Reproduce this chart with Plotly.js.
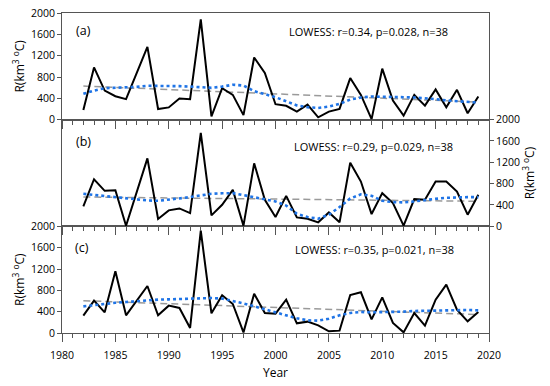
<!DOCTYPE html>
<html>
<head>
<meta charset="utf-8">
<script src="https://cdn.plot.ly/plotly-3.0.1.min.js"></script>
<style>html,body{margin:0;padding:0;background:#fff;}#chart{width:550px;height:386px;}</style>
</head>
<body>
<div id="chart"></div>
<script>
const years = [1982,1983,1984,1985,1986,1987,1988,1989,1990,1991,1992,1993,1994,1995,1996,1997,1998,1999,2000,2001,2002,2003,2004,2005,2006,2007,2008,2009,2010,2011,2012,2013,2014,2015,2016,2017,2018,2019];

const rA = [180,980,545,440,385,860,1365,200,230,395,385,1880,60,590,465,85,1165,875,290,260,150,283,44,151,201,780,465,10,956,358,75,465,264,566,233,560,120,434];
const lowA = [484,545,590,600,600,615,635,637,635,628,620,610,597,620,655,640,535,478,421,345,268,233,220,245,296,377,415,434,434,428,421,415,403,385,360,345,333,321];

const rB = [373,883,666,678,10,640,1275,137,299,336,249,1754,205,404,684,12,1182,498,174,572,168,143,75,261,75,1194,840,230,622,435,12,510,498,840,840,653,218,591];
const lowB = [610,590,572,548,522,502,485,479,498,522,547,580,610,620,622,585,547,505,467,390,235,174,143,218,361,522,600,572,479,454,448,467,498,516,535,547,547,547];

const rC = [325,606,388,1156,331,606,881,331,513,469,94,1919,369,706,544,12,738,375,363,625,181,213,144,31,44,713,763,256,669,188,12,375,138,625,906,438,219,394];
const lowC = [500,525,550,566,581,600,619,625,631,638,644,650,656,645,606,555,500,447,394,330,275,238,231,269,331,375,394,388,388,394,400,413,419,425,431,431,431,425];

const trendYears = [1982, 2019];
const trendA = [629, 330];
const trendB = [550, 470];
const trendC = [605, 345];

const panelLabels = ['(a)','(b)','(c)'];
const statTexts = ['LOWESS: r=0.34, p=0.028, n=38','LOWESS: r=0.29, p=0.029, n=38','LOWESS: r=0.35, p=0.021, n=38'];
const xTickVals = [1980,1985,1990,1995,2000,2005,2010,2015,2020];
const yTickVals = [0,400,800,1200,1600,2000];
const yTitle = 'R(km<sup>3</sup> <sup>o</sup>C)';

const axisColor = '#555';
function panelTraces(r, low, trend, xa, ya) {
  return [
    {x: trendYears, y: trend, xaxis: xa, yaxis: ya, mode: 'lines', line: {color: '#9a9a9a', width: 1.5, dash: '7px,4px'}, hoverinfo: 'skip'},
    {x: years, y: r, xaxis: xa, yaxis: ya, mode: 'lines', line: {color: '#000', width: 2}},
    {x: years, y: low, xaxis: xa, yaxis: ya, mode: 'lines', line: {color: '#1f74e6', width: 2.6, dash: 'dot'}}
  ];
}
const data = [].concat(
  panelTraces(rA, lowA, trendA, 'x3', 'y3'),
  panelTraces(rB, lowB, trendB, 'x2', 'y2'),
  panelTraces(rC, lowC, trendC, 'x', 'y')
);

function xAxis(anchor, showLabels) {
  const ax = {
    anchor: anchor, domain: [0, 1], range: [1980, 2020],
    tickmode: 'array', tickvals: xTickVals, showticklabels: showLabels,
    ticks: 'outside', ticklen: 8, tickwidth: 1, tickcolor: axisColor,
    showline: true, mirror: true, linecolor: axisColor, linewidth: 1,
    showgrid: false, zeroline: false,
    minor: {dtick: 1, tick0: 1980, ticks: 'outside', ticklen: 4, tickwidth: 1, tickcolor: axisColor, showgrid: false},
    tickfont: {size: 10.5}
  };
  if (showLabels) {
    ax.ticklabelstandoff = 4;
    ax.title = {text: 'Year', font: {size: 12}, standoff: 8};
  }
  return ax;
}
function yAxis(anchor, domain, side) {
  return {
    anchor: anchor, domain: domain, range: [0, 2000], side: side,
    tickmode: 'array', tickvals: yTickVals,
    ticks: 'outside', ticklen: 4, tickwidth: 1, tickcolor: axisColor,
    showline: true, mirror: true, linecolor: axisColor, linewidth: 1,
    showgrid: false, zeroline: false,
    tickfont: {size: 10.5},
    title: {text: yTitle, font: {size: 12}, standoff: 3}
  };
}

const annPos = [
  {yref: 'y3 domain', lx: 0.028, ly: 0.84, sx: 0.527, sy: 0.83},
  {yref: 'y2 domain', lx: 0.027, ly: 0.80, sx: 0.538, sy: 0.753},
  {yref: 'y domain',  lx: 0.025, ly: 0.80, sx: 0.540, sy: 0.78}
];
const annotations = [];
annPos.forEach((p, i) => {
  annotations.push({xref: 'x domain', yref: p.yref, x: p.lx, y: p.ly, text: panelLabels[i], showarrow: false, xanchor: 'left', yanchor: 'middle', font: {size: 12.5, color: '#000'}});
  annotations.push({xref: 'x domain', yref: p.yref, x: p.sx, y: p.sy, text: statTexts[i], showarrow: false, xanchor: 'left', yanchor: 'middle', font: {size: 11, color: '#000'}});
});

const layout = {
  width: 550, height: 386,
  margin: {l: 62, r: 61, t: 13, b: 53, pad: 0},
  paper_bgcolor: '#fff', plot_bgcolor: '#fff',
  showlegend: false,
  font: {family: '"Open Sans", sans-serif', size: 10.5, color: '#000'},
  xaxis: xAxis('y', true),
  xaxis2: xAxis('y2', false),
  xaxis3: xAxis('y3', false),
  yaxis: yAxis('x', [0, 1/3], 'left'),
  yaxis2: yAxis('x2', [1/3, 2/3], 'right'),
  yaxis3: yAxis('x3', [2/3, 1], 'left'),
  annotations: annotations
};

Plotly.newPlot('chart', data, layout, {displayModeBar: false, staticPlot: true});
</script>
</body>
</html>
